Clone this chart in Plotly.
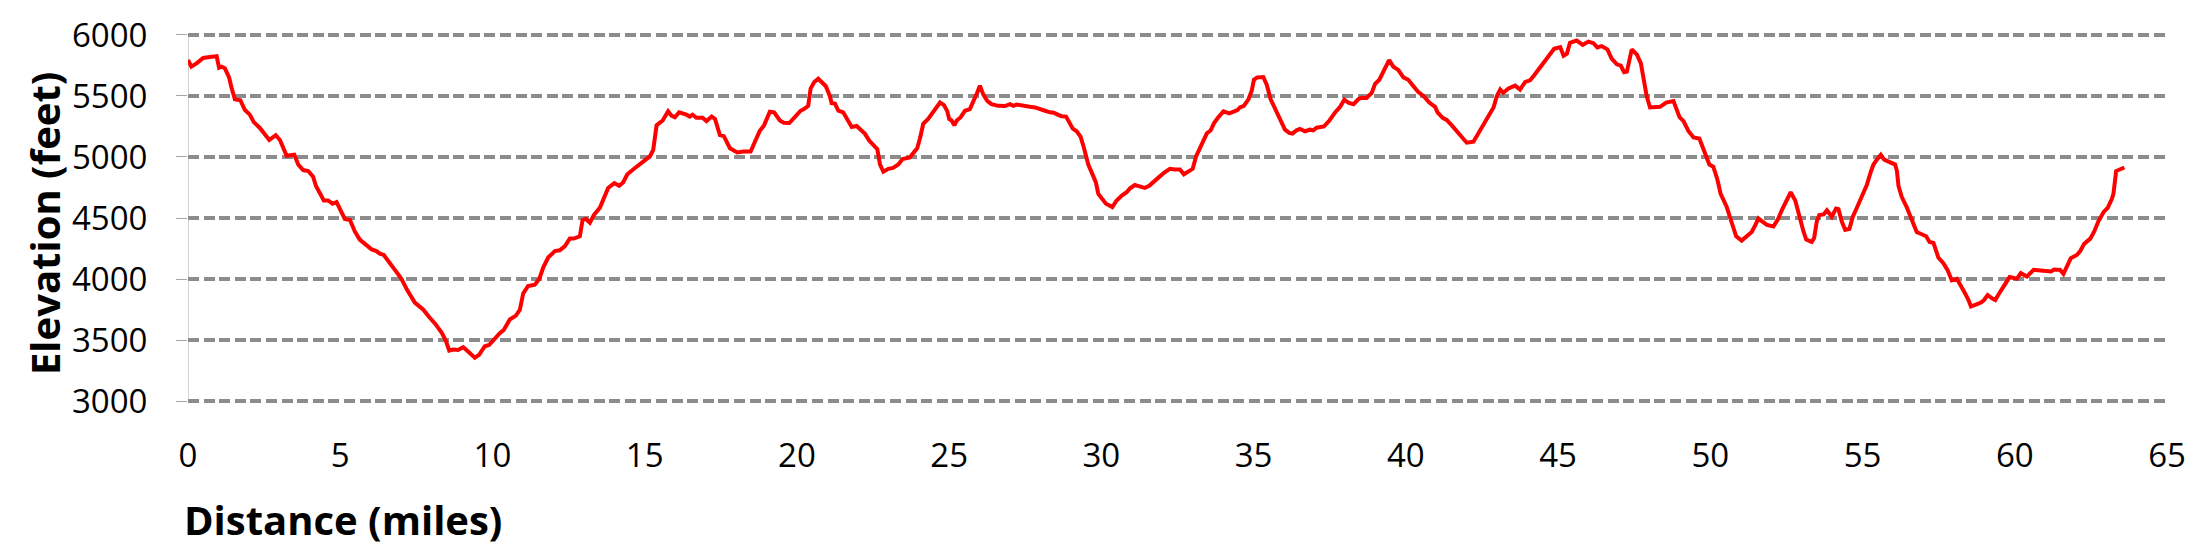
import plotly.graph_objects as go

# Distance along route (miles)
distance_miles = [
    0.00, 0.11, 0.28, 0.50, 0.72, 0.94, 1.02, 1.10, 1.21, 1.35, 1.43, 1.54, 1.72, 1.87, 2.03, 2.16,
    2.36, 2.52, 2.67, 2.88, 3.02, 3.24, 3.49, 3.62, 3.78, 3.95, 4.11, 4.20, 4.33, 4.46, 4.60, 4.75,
    4.88, 4.99, 5.15, 5.32, 5.48, 5.64, 5.84, 6.03, 6.19, 6.30, 6.43, 6.63, 6.85, 7.01, 7.20, 7.45,
    7.73, 7.92, 8.11, 8.33, 8.47, 8.58, 8.71, 8.87, 9.04, 9.20, 9.42, 9.56, 9.75, 9.89, 10.08, 10.24,
    10.37, 10.57, 10.77, 10.90, 11.01, 11.17, 11.39, 11.54, 11.67, 11.83, 12.05, 12.21, 12.38, 12.54,
    12.67, 12.78, 12.87, 12.96, 13.07, 13.20, 13.33, 13.53, 13.64, 13.80, 14.00, 14.16, 14.29, 14.43,
    14.62, 14.79, 14.95, 15.17, 15.28, 15.39, 15.48, 15.59, 15.77, 15.88, 15.99, 16.13, 16.37, 16.48,
    16.57, 16.70, 16.90, 17.03, 17.20, 17.31, 17.47, 17.60, 17.80, 18.04, 18.24, 18.48, 18.62, 18.78,
    18.92, 19.11, 19.25, 19.44, 19.57, 19.75, 19.93, 20.12, 20.23, 20.37, 20.45, 20.57, 20.70, 20.81,
    20.95, 21.08, 21.14, 21.25, 21.36, 21.52, 21.69, 21.80, 21.96, 22.09, 22.23, 22.38, 22.51, 22.64,
    22.73, 22.84, 23.00, 23.16, 23.33, 23.47, 23.71, 23.82, 23.95, 24.04, 24.15, 24.31, 24.53, 24.70,
    24.83, 24.94, 25.00, 25.08, 25.17, 25.25, 25.38, 25.52, 25.68, 25.81, 25.92, 26.01, 26.12, 26.25,
    26.39, 26.61, 26.83, 27.00, 27.11, 27.22, 27.43, 27.65, 27.82, 27.98, 28.15, 28.31, 28.44, 28.58,
    28.69, 28.84, 28.95, 29.06, 29.19, 29.32, 29.43, 29.57, 29.73, 29.82, 29.90, 30.01, 30.15, 30.36,
    30.50, 30.67, 30.83, 30.94, 31.10, 31.25, 31.43, 31.57, 31.73, 31.90, 32.09, 32.25, 32.42, 32.58,
    32.71, 32.86, 33.00, 33.11, 33.22, 33.35, 33.46, 33.59, 33.70, 33.84, 34.01, 34.20, 34.33, 34.47,
    34.55, 34.68, 34.83, 34.94, 35.01, 35.12, 35.32, 35.43, 35.56, 35.67, 35.78, 35.92, 36.03, 36.17,
    36.28, 36.41, 36.52, 36.69, 36.85, 36.96, 37.07, 37.31, 37.49, 37.67, 37.84, 37.98, 38.11, 38.28,
    38.44, 38.55, 38.71, 38.88, 38.99, 39.13, 39.26, 39.45, 39.59, 39.75, 39.92, 40.08, 40.25, 40.41,
    40.58, 40.77, 40.96, 41.04, 41.21, 41.34, 41.51, 41.67, 41.87, 42.00, 42.22, 42.42, 42.60, 42.77,
    42.88, 42.99, 43.10, 43.20, 43.37, 43.59, 43.75, 43.92, 44.08, 44.21, 44.35, 44.52, 44.68, 44.87,
    45.07, 45.18, 45.29, 45.39, 45.61, 45.81, 46.00, 46.16, 46.29, 46.43, 46.62, 46.76, 46.93, 47.06,
    47.17, 47.26, 47.42, 47.59, 47.72, 47.80, 47.91, 48.02, 48.35, 48.55, 48.79, 48.99, 49.12, 49.28,
    49.45, 49.64, 49.75, 49.86, 49.97, 50.10, 50.23, 50.34, 50.54, 50.71, 50.85, 51.03, 51.20, 51.36,
    51.47, 51.58, 51.69, 51.86, 52.07, 52.21, 52.35, 52.49, 52.64, 52.79, 52.93, 53.06, 53.15, 53.33,
    53.41, 53.50, 53.58, 53.72, 53.83, 53.99, 54.13, 54.21, 54.32, 54.43, 54.57, 54.68, 54.81, 54.98,
    55.14, 55.27, 55.36, 55.47, 55.60, 55.71, 55.85, 56.07, 56.13, 56.18, 56.29, 56.45, 56.62, 56.78,
    56.98, 57.09, 57.20, 57.33, 57.49, 57.66, 57.79, 57.93, 58.10, 58.23, 58.37, 58.48, 58.56, 58.70,
    58.89, 58.99, 59.11, 59.25, 59.36, 59.52, 59.69, 59.83, 60.07, 60.20, 60.40, 60.62, 60.84, 61.00,
    61.19, 61.29, 61.49, 61.60, 61.73, 61.84, 62.04, 62.15, 62.28, 62.48, 62.61, 62.75, 62.92, 63.05,
    63.19, 63.24, 63.33, 63.46, 63.60,
]

# Elevation (feet)
elevation_feet = [
    5795, 5740, 5767, 5812, 5820, 5826, 5732, 5740, 5727, 5652, 5567, 5473, 5465, 5385, 5347, 5286,
    5238, 5192, 5139, 5179, 5139, 5010, 5018, 4938, 4893, 4885, 4839, 4764, 4711, 4644, 4644, 4617,
    4631, 4577, 4492, 4484, 4390, 4323, 4283, 4243, 4229, 4208, 4197, 4136, 4056, 4002, 3909, 3807,
    3748, 3689, 3636, 3561, 3494, 3414, 3422, 3419, 3441, 3406, 3355, 3379, 3449, 3459, 3513, 3556,
    3582, 3668, 3700, 3748, 3882, 3943, 3954, 4002, 4096, 4176, 4229, 4235, 4270, 4331,
    4331, 4342, 4350, 4484, 4492, 4462, 4524, 4585, 4657, 4746, 4786, 4764, 4791, 4858,
    4898, 4930, 4970, 5005, 5059, 5259, 5278, 5299, 5374, 5339, 5326, 5366, 5347, 5331,
    5347, 5321, 5321, 5294, 5331, 5312, 5179, 5171, 5072, 5037, 5045, 5045, 5125, 5214,
    5259, 5371, 5366, 5299, 5280, 5278, 5326, 5379, 5393, 5419, 5561, 5615, 5641, 5615,
    5580, 5500, 5441, 5438, 5379, 5366, 5299, 5246, 5254, 5224, 5192, 5133, 5099, 5064,
    4938, 4879, 4903, 4911, 4938, 4984, 4997, 5032, 5072, 5152, 5272, 5312, 5393, 5446,
    5425, 5374, 5312, 5299, 5259, 5299, 5326, 5379, 5393, 5460, 5526, 5585, 5513, 5460,
    5433, 5419, 5417, 5433, 5419, 5430, 5417, 5411, 5406, 5390, 5379, 5366, 5363, 5345,
    5334, 5331, 5278, 5232, 5211, 5165, 5072, 4938, 4845, 4791, 4697, 4657, 4617, 4590,
    4644, 4684, 4711, 4743, 4770, 4759, 4746, 4764, 4804, 4837, 4877, 4903, 4898, 4898,
    4858, 4885, 4903, 5005, 5064, 5152, 5192, 5219, 5278, 5326, 5374, 5358, 5374, 5385,
    5406, 5419, 5473, 5545, 5633, 5652, 5655, 5593, 5473, 5419, 5358, 5286, 5224, 5198,
    5192, 5219, 5230, 5211, 5224, 5219, 5240, 5251, 5299, 5363, 5411, 5470, 5446, 5433,
    5473, 5486, 5484, 5526, 5599, 5633, 5695, 5794, 5740, 5714, 5652, 5633, 5580, 5532,
    5500, 5446, 5411, 5366, 5321, 5304, 5259, 5214, 5165, 5117, 5125, 5206, 5286, 5358,
    5406, 5500, 5553, 5526, 5561, 5585, 5553, 5615, 5628, 5668, 5714, 5775, 5821, 5887,
    5901, 5829, 5847, 5936, 5954, 5919, 5946, 5933, 5898, 5909, 5882, 5807, 5759, 5748,
    5695, 5700, 5882, 5839, 5767, 5633, 5500, 5406, 5411, 5446, 5459, 5326, 5294, 5214,
    5160, 5152, 5085, 5018, 4938, 4919, 4818, 4697, 4590, 4457, 4350, 4315, 4355, 4385,
    4438, 4497, 4475, 4443, 4430, 4484, 4564, 4644, 4711, 4644, 4497, 4390, 4323, 4304,
    4336, 4475, 4524, 4529, 4564, 4510, 4577, 4572, 4470, 4403, 4411, 4510, 4582, 4671,
    4770, 4877, 4938, 4978, 5018, 4978, 4965, 4938, 4885, 4764, 4671, 4590, 4484, 4385,
    4363, 4350, 4304, 4296, 4176, 4128, 4075, 3989, 4002, 3949, 3882, 3828, 3775, 3788,
    3807, 3828, 3869, 3842, 3828, 3895, 3957, 4016, 4002, 4048, 4021, 4075, 4069, 4064,
    4061, 4077, 4075, 4042, 4117, 4171, 4197, 4229, 4288, 4331, 4390, 4475, 4550, 4582,
    4657, 4697, 4885, 4898, 4914,
]

x_tick_values = [0, 5, 10, 15, 20, 25, 30, 35, 40, 45, 50, 55, 60, 65]
y_tick_values = [3000, 3500, 4000, 4500, 5000, 5500, 6000]

x_title = "Distance (miles)"
y_title = "Elevation (feet)"

FONT = "Open Sans"

# Plot area geometry (pixels): 62 px per 500 ft with grid lines on whole-pixel
# centres so the 4 px dashed grid renders crisp; the small range padding also
# keeps plotly from dropping the 3000 and 6000 grid lines at the range ends.
plot_h = 376
grid_span_px = 372
y_low, y_high = min(y_tick_values), max(y_tick_values)
y_pad = (plot_h - grid_span_px) / 2 * (y_high - y_low) / grid_span_px

fig = go.Figure()
fig.add_trace(go.Scatter(
    x=distance_miles,
    y=elevation_feet,
    mode="lines",
    line=dict(color="#FF0000", width=4),
    hoverinfo="x+y",
    showlegend=False,
))

fig.update_layout(
    width=2200,
    height=550,
    margin=dict(l=188, r=33, t=27, b=550 - 27 - plot_h, pad=0),
    paper_bgcolor="white",
    plot_bgcolor="white",
    font=dict(family=FONT, color="black"),
    xaxis=dict(
        range=[0, 65],
        tickmode="array",
        tickvals=x_tick_values,
        ticktext=[str(v) for v in x_tick_values],
        showgrid=False,
        zeroline=False,
        showline=False,
        ticks="",
        ticklabelstandoff=30,
        tickfont=dict(family=FONT, size=33, color="black"),
    ),
    yaxis=dict(
        range=[y_low - y_pad, y_high + y_pad],
        tickmode="array",
        tickvals=y_tick_values,
        ticktext=[str(v) for v in y_tick_values],
        showgrid=True,
        gridcolor="#8C8C8C",
        gridwidth=4,
        griddash="11px,4.6px",
        zeroline=False,
        showline=False,
        ticks="outside",
        ticklen=11,
        tickwidth=1,
        tickcolor="#A6A6A6",
        ticklabelstandoff=22,
        tickfont=dict(family=FONT, size=33, color="black"),
    ),
    shapes=[
        dict(
            type="line",
            xref="x", yref="y",
            x0=0, x1=0,
            y0=y_low, y1=y_high,
            line=dict(color="#A6A6A6", width=1),
            layer="below",
        ),
    ],
    annotations=[
        dict(
            text="<b>" + x_title + "</b>",
            xref="paper", yref="paper",
            x=-0.003, y=-0.315,
            xanchor="left", yanchor="middle",
            showarrow=False,
            font=dict(family=FONT, size=40, color="black"),
        ),
        dict(
            text="<b>" + y_title + "</b>",
            xref="paper", yref="paper",
            x=-0.0725, y=0.485,
            xanchor="center", yanchor="middle",
            textangle=-90,
            showarrow=False,
            font=dict(family=FONT, size=40, color="black"),
        ),
    ],
)

fig.write_html(
    "out.html",
    config={"displayModeBar": False},
    post_script="document.body.style.margin='0';document.body.style.overflow='hidden';",
)
